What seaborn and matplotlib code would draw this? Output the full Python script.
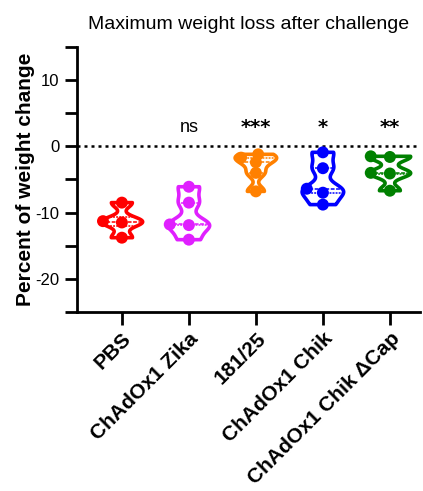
import numpy as np
import pandas as pd
import matplotlib
matplotlib.use("Agg")
import matplotlib.pyplot as plt
import seaborn as sns

groups = ["PBS", "ChAdOx1 Zika", "181/25", "ChAdOx1 Chik", "ChAdOx1 Chik ΔCap"]
pbs = [-8.5, -11.3, -11.5, -13.8]
zika = [-6.1, -8.5, -11.8, -11.9, -14.1]
tc83 = [-1.2, -1.7, -2.4, -4.0, -6.8]
chik = [-0.9, -3.3, -6.4, -7.0, -8.8]
dcap = [-1.5, -1.6, -4.0, -4.1, -6.7]
signif = ["", "ns", "***", "*", "**"]
colors = ["#FF0000", "#E020FF", "#FF8000", "#0000FF", "#008000"]
yticks = [10, 0, -10, -20]

values = [pbs, zika, tc83, chik, dcap]
df = pd.DataFrame({
    "group": np.repeat(groups, [len(v) for v in values]),
    "value": np.concatenate(values),
})

sns.set_style("ticks")
plt.rcParams["font.family"] = ["Liberation Sans", "DejaVu Sans"]
plt.rcParams.update({"text.color": "black", "axes.labelcolor": "black",
                     "xtick.color": "black", "ytick.color": "black"})

fig = plt.figure(figsize=(4.23, 4.91), dpi=100)
ax = fig.add_axes([0.182, 0.365, 0.811, 0.539])

sns.violinplot(data=df, x="group", y="value", hue="group", palette=colors,
               order=groups, hue_order=groups, legend=False, fill=False,
               cut=0, bw_adjust=0.45, density_norm="width", width=0.62,
               linewidth=2.6, inner="quart",
               inner_kws=dict(linewidth=1.1), ax=ax)

ax.axhline(0, color="black", linestyle=(0, (1.2, 1.6)), linewidth=1.8, zorder=0)

sns.swarmplot(data=df, x="group", y="value", hue="group", palette=colors,
              order=groups, hue_order=groups, legend=False, size=13.5,
              ax=ax, zorder=5)
# compute swarm layout with wide spacing, then shrink markers
fig.canvas.draw()
for coll in ax.collections[-len(groups):]:
    if "draw" in coll.__dict__:
        del coll.__dict__["draw"]
    coll.set_sizes([74])
    coll.set_linewidth(0)

for i, s in enumerate(signif):
    if s:
        if s == "ns":
            ax.text(i, 2.9, s, ha="center", va="center", fontsize=13,
                    family="Liberation Sans", color="black")
        else:
            ax.text(i, 2.9, s, ha="center", va="center", fontsize=14,
                    family="DejaVu Sans", fontweight="bold", color="black")

ax.set_ylim(-25, 15)
ax.set_xlim(-0.67, 4.45)
ax.set_yticks(yticks)
ax.set_yticks([15, 5, -5, -15, -25], minor=True)
ax.set_yticklabels([str(t) for t in yticks], fontsize=12)
ax.set_xticks(range(len(groups)))
ax.set_xticklabels(groups, rotation=45, ha="right", rotation_mode="anchor",
                   fontsize=15, fontweight="bold")
ax.tick_params(axis="both", which="major", length=9, width=2, color="black",
               labelcolor="black")
ax.tick_params(axis="y", which="minor", length=9, width=2, color="black")
ax.set_xlabel("")
ax.set_ylabel("Percent of weight change", fontsize=15, fontweight="bold",
              labelpad=0, color="black")
ax.set_title("Maximum weight loss after challenge", fontsize=14, pad=13,
             color="black")
for side in ["left", "bottom"]:
    ax.spines[side].set_linewidth(2)
    ax.spines[side].set_color("black")
sns.despine(ax=ax)

fig.savefig("out.png", dpi=100)
